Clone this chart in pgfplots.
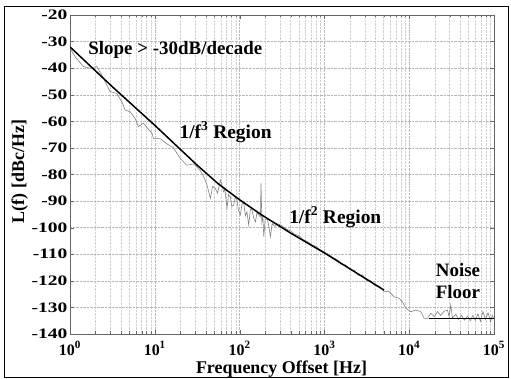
\documentclass[border=0pt]{standalone}
\usepackage{pgfplots}
\pgfplotsset{compat=1.18}
\usepackage{fontspec}
\setmainfont{Liberation Serif}
\usepackage{graphicx}
\newcommand{\yl}[1]{\scalebox{1.35}[1]{#1}}
\begin{document}
\begin{tikzpicture}
\useasboundingbox (0bp,0bp) rectangle (511bp,379bp);
\draw[line width=1pt] (4bp,2bp) rectangle (508bp,372bp);
\begin{axis}[at={(70bp,45bp)}, anchor=south west, scale only axis,
  width=424bp, height=319bp,
  xmode=log, xmin=1, xmax=1e5, ymin=-140, ymax=-20,
  xtick={1,10,100,1000,10000,100000},
  xticklabels={10\textsuperscript{0},10\textsuperscript{1},10\textsuperscript{2},10\textsuperscript{3},10\textsuperscript{4},10\textsuperscript{5}},
  ytick={-140,-130,-120,-110,-100,-90,-80,-70,-60,-50,-40,-30,-20},
  yticklabels={\yl{-140},\yl{-130},\yl{-120},\yl{-110},\yl{-100},\yl{-90},\yl{-80},\yl{-70},\yl{-60},\yl{-50},\yl{-40},\yl{-30},\yl{-20}},
  grid=both,
  major grid style={densely dotted, black!28},
  minor grid style={densely dotted, black!18},
  tick align=inside, major tick length=4bp, minor tick length=2.5bp,
  axis line style={black!60, line width=0.8pt},
  tick style={black!60},
  xticklabel style={font=\fontsize{16}{16}\selectfont\bfseries, yshift=-4bp},
  yticklabel style={font=\fontsize{14.5}{14.5}\selectfont\bfseries, xshift=1bp},
  clip=true,
]
% measured noise (gray)
\addplot[black!50, line width=0.6pt] coordinates {
(1.0,-32.5) (1.15,-35.7) (1.44,-39.4) (1.72,-40.0) (2.07,-39.4) (2.37,-42.6)
(2.97,-48.8) (3.56,-49.5) (4.08,-52.6) (4.47,-55.7) (5.12,-56.4) (5.86,-58.9)
(6.41,-62.0) (7.35,-60.7) (8.43,-63.0) (9.25,-64.5) (9.66,-66.5) (11.6,-66.5)
(13.9,-68.5) (16.6,-70.0) (20.0,-74.0) (23.9,-76.5) (28.7,-76.0) (34.4,-78.5)
(38.0,-81.0) (41.3,-84.0) (45.2,-89.0) (48.0,-84.5) (51.8,-85.2) (55.0,-87.0)
(59.3,-82.1) (64.9,-86.5) (67.0,-85.5) (71.1,-92.7) (74.0,-87.5) (77.8,-88.4)
(81.0,-92.0) (85.1,-91.5) (89.0,-88.5) (93.3,-89.6) (97.0,-93.5) (102,-95.2)
(107,-91.0) (112,-90.8) (117,-95.5) (122,-94.0) (128,-99.0) (134,-93.0)
(140,-93.4) (147,-96.5) (154,-97.8) (160,-94.5) (168,-95.2) (176,-96.0)
(179,-83.3) (183,-98.0) (188,-96.0) (193,-103.4) (200,-97.0) (211,-96.5)
(220,-99.0) (231,-103.4) (242,-98.4) (260,-99.5) (282,-98.5) (316,-99.3)
(355,-100.5) (398,-101.2) (447,-102.5) (501,-103.0) (562,-104.5) (631,-105.2)
(708,-106.5) (794,-107.0) (891,-108.3) (1000,-109.2) (1122,-110.0) (1259,-111.2)
(1413,-112.0) (1585,-113.8) (1778,-114.0) (1995,-115.8) (2239,-116.0) (2512,-117.9)
(2818,-117.8) (3162,-119.9) (3548,-120.0) (3981,-121.9) (4467,-122.0) (5012,-123.9)
(5794,-124.1) (6637,-126.0) (7603,-126.6) (8318,-127.9) (9120,-130.3) (10450,-131.6)
(11970,-131.0) (13710,-131.6) (15000,-134.1) (16440,-134.1) (17990,-132.2) (19680,-133.5)
(21580,-131.6) (23440,-133.0) (25700,-131.5) (28310,-131.0) (29510,-133.5) (30900,-129.1)
(32360,-134.0) (35480,-132.5) (38020,-134.5) (41690,-133.0) (44670,-134.8) (48980,-133.2)
(52480,-135.0) (56230,-133.0) (60260,-134.8) (64570,-132.5) (69180,-135.2) (74130,-131.5)
(79430,-134.5) (85110,-132.0) (91200,-135.3) (95500,-133.0) (100000,-134.5)
};
% fitted lines (black)
\addplot[black, line width=1.5pt] coordinates {
(1,-32) (3.16,-47) (10,-61.5) (31.6,-76.5) (56,-83.5) (100,-89.5) (178,-95) (398,-102) (1000,-109.5) (5050,-123.5)
};
\addplot[black, line width=1.5pt] coordinates {(17200,-134.2) (100000,-134.2)};
\node[anchor=base west, font=\fontsize{19}{19}\selectfont\bfseries] at (axis cs:1.5,-35) {Slope > -30dB/decade};
\node[anchor=base west, font=\fontsize{19.5}{19}\selectfont\bfseries] at (axis cs:17.8,-66.4) {1/f\textsuperscript{3} Region};
\node[anchor=base west, font=\fontsize{19.5}{19}\selectfont\bfseries] at (axis cs:350,-98.4) {1/f\textsuperscript{2} Region};
\node[anchor=base, font=\fontsize{19}{19}\selectfont\bfseries] at (axis cs:37600,-118.4) {Noise};
\node[anchor=base, font=\fontsize{19}{19}\selectfont\bfseries] at (axis cs:37600,-126.6) {Floor};
\end{axis}
\node[anchor=base, font=\fontsize{18}{18}\selectfont\bfseries] at (281.5bp,6bp) {Frequency Offset [Hz]};
\node[anchor=base, rotate=90, font=\fontsize{18}{18}\selectfont\bfseries] at (24bp,207.5bp) {L(f) [dBc/Hz]};
\end{tikzpicture}
\end{document}
